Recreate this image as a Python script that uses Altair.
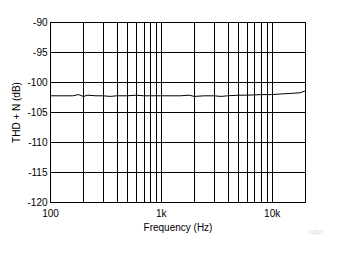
import altair as alt
import pandas as pd

freq = [100, 130, 160, 180, 200, 220, 260, 300, 350, 400, 500, 600, 700, 800,
        1000, 1500, 1800, 2000, 2500, 3000, 3500, 4000, 5000, 6000, 8000,
        10000, 12000, 15000, 18000, 20000]
thdn = [-102.3, -102.3, -102.3, -102.1, -102.4, -102.2, -102.3, -102.3, -102.4,
        -102.3, -102.3, -102.2, -102.3, -102.3, -102.3, -102.3, -102.2, -102.4,
        -102.3, -102.3, -102.4, -102.3, -102.2, -102.2, -102.1, -102.1, -102.0,
        -101.9, -101.8, -101.5]

x_grid = [100, 200, 300, 400, 500, 600, 700, 800, 900, 1000, 2000, 3000, 4000,
          5000, 6000, 7000, 8000, 9000, 10000, 20000]
y_ticks = [-120, -115, -110, -105, -100, -95, -90]

df = pd.DataFrame({"f": freq, "v": thdn})
FONT = "Liberation Sans"

line = alt.Chart(df).mark_line(color="black", strokeWidth=1).encode(
    x=alt.X("f:Q", scale=alt.Scale(type="log", domain=[100, 20000]),
            axis=alt.Axis(values=x_grid, title="Frequency (Hz)",
                          labelExpr="datum.value == 100 ? '100' : datum.value == 1000 ? '1k' : datum.value == 10000 ? '10k' : ''",
                          grid=True, gridColor="black", gridOpacity=1, gridWidth=1,
                          ticks=False, domain=False, labelPadding=6, titlePadding=4,
                          labelFlush=False, labelOverlap=False)),
    y=alt.Y("v:Q", scale=alt.Scale(domain=[-120, -90]),
            axis=alt.Axis(values=y_ticks, title="THD + N (dB)",
                          labelExpr="'' + datum.value",
                          grid=True, gridColor="black", gridOpacity=1, gridWidth=1,
                          ticks=False, domain=False, labelPadding=3, titlePadding=5)),
)

mark = alt.Chart(pd.DataFrame({"t": ["C017"]})).mark_text(
    color="#cccccc", fontSize=6, font=FONT).encode(
    text="t:N", x=alt.value(266), y=alt.value(210))

chart = alt.layer(line, mark).properties(
    width=255, height=180,
    autosize=alt.AutoSizeParams(type="none"),
    padding={"left": 50, "top": 22, "right": 33, "bottom": 52},
).configure_view(stroke="black", strokeWidth=1).configure_axis(
    labelFont=FONT, titleFont=FONT, labelFontSize=10, titleFontSize=10,
    labelColor="black", titleColor="black", titleFontWeight="normal")

chart.save("out.html", embed_options={"renderer": "svg", "actions": False})
